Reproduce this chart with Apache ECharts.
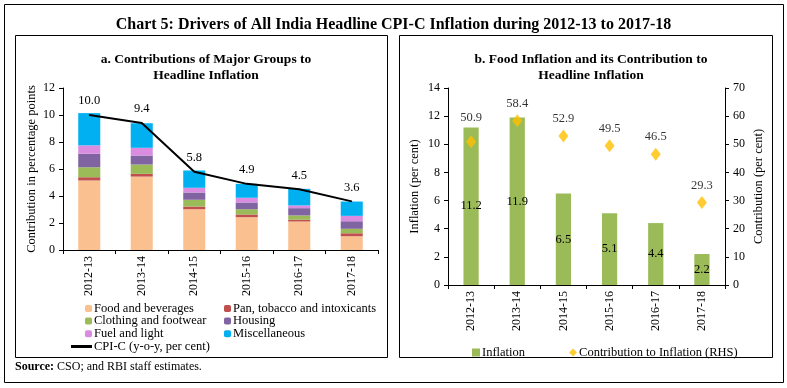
<!DOCTYPE html>
<html><head><meta charset="utf-8">
<script src="https://cdn.jsdelivr.net/npm/echarts@6/dist/echarts.min.js"></script>
<style>html,body{margin:0;padding:0;background:#fff}#c{width:787px;height:388px}</style>
</head><body><div id="c"></div>
<script>
var years = ['2012-13','2013-14','2014-15','2015-16','2016-17','2017-18'];
// Panel a: contributions (percentage points)
var food     = [5.15, 5.44, 3.02, 2.43, 2.11, 1.02];
var pan      = [0.24, 0.20, 0.20, 0.20, 0.13, 0.22];
var clothing = [0.74, 0.69, 0.50, 0.39, 0.32, 0.33];
var housing  = [1.00, 0.67, 0.54, 0.50, 0.54, 0.56];
var fuel     = [0.62, 0.57, 0.35, 0.35, 0.20, 0.40];
var misc     = [2.39, 1.82, 1.28, 1.03, 1.23, 1.06];
var cpic     = [10.0, 9.4, 5.8, 4.9, 4.5, 3.6];
// Panel b
var foodInflation = [11.2, 11.9, 6.5, 5.1, 4.4, 2.2];
var foodContribution = [50.9, 58.4, 52.9, 49.5, 46.5, 29.3];

var FONT = 'Liberation Serif';
var txt = {fontFamily: FONT, fontSize: 12, color: '#000'};
var chart = echarts.init(document.getElementById('c'), null, {renderer: 'canvas'});

function stackBar(name, data, color) {
  return {name: name, type: 'bar', stack: 'a', xAxisIndex: 0, yAxisIndex: 0,
    barWidth: '42%', data: data, itemStyle: {color: color}};
}

var axisLine = {show: true, lineStyle: {color: '#000', width: 1}};
var axisTick = {show: true, lineStyle: {color: '#000'}, length: 4};
var legText = {fontFamily: FONT, fontSize: 12.5, color: '#000', lineHeight: 12, padding: [0, 0, 0, -3]};

var option = {
  animation: false,
  textStyle: {fontFamily: FONT},
  title: [
    {text: 'Chart 5: Drivers of All India Headline CPI-C Inflation during 2012-13 to 2017-18',
     left: 'center', top: 12, textStyle: {fontFamily: FONT, fontWeight: 'bold', fontSize: 16, color: '#000'}},
    {text: 'a. Contributions of Major Groups to\nHeadline Inflation', left: 201, textAlign: 'center', top: 47,
     textStyle: {fontFamily: FONT, fontWeight: 'bold', fontSize: 13.5, lineHeight: 16, color: '#000'}},
    {text: 'b. Food Inflation and its Contribution to\nHeadline Inflation', left: 586, textAlign: 'center', top: 47,
     textStyle: {fontFamily: FONT, fontWeight: 'bold', fontSize: 13.5, lineHeight: 16, color: '#000'}}
  ],
  graphic: [
    {type: 'rect', shape: {x: 4.5, y: 4.5, width: 779, height: 378}, style: {fill: 'none', stroke: '#000', lineWidth: 1}},
    {type: 'rect', shape: {x: 15.5, y: 35.5, width: 372, height: 322}, style: {fill: 'none', stroke: '#000', lineWidth: 1}},
    {type: 'rect', shape: {x: 399.5, y: 35.5, width: 373, height: 322}, style: {fill: 'none', stroke: '#000', lineWidth: 1}},
    {type: 'text', left: 15, top: 361, style: {text: '{b|Source:} CSO; and RBI staff estimates.', rich: {b: {fontWeight: 'bold', fontFamily: FONT, fontSize: 12}}, fontFamily: FONT, fontSize: 12, fill: '#000'}}
  ],
  legend: [
    {orient: 'vertical', left: 80, top: 297, itemWidth: 7, itemHeight: 7, itemGap: -0.4, textStyle: legText,
     data: ['Food and beverages', 'Clothing and footwear', 'Fuel and light']},
    {orient: 'vertical', left: 219, top: 297, itemWidth: 7, itemHeight: 7, itemGap: -0.4, textStyle: legText,
     data: ['Pan, tobacco and intoxicants', 'Housing', 'Miscellaneous']},
    {orient: 'horizontal', left: 66, top: 335, itemWidth: 21, itemHeight: 3, textStyle: legText,
     data: [{name: 'CPI-C (y-o-y, per cent)', icon: 'rect'}]},
    {orient: 'horizontal', left: 467, top: 341, itemWidth: 8, itemHeight: 8, itemGap: 44, textStyle: legText,
     data: [{name: 'Inflation', icon: 'rect'}, {name: 'Contribution to Inflation (RHS)', icon: 'diamond'}]}
  ],
  grid: [
    {left: 63, top: 88, width: 315, height: 162},
    {left: 448, top: 88, width: 277, height: 197}
  ],
  xAxis: [
    {type: 'category', gridIndex: 0, data: years, axisLine: axisLine, axisTick: axisTick,
     axisLabel: Object.assign({rotate: 90, margin: 6}, txt)},
    {type: 'category', gridIndex: 1, data: years, axisLine: axisLine, axisTick: axisTick,
     axisLabel: Object.assign({rotate: 90, margin: 6}, txt)}
  ],
  yAxis: [
    {type: 'value', gridIndex: 0, min: 0, max: 12, interval: 2, axisLine: axisLine, axisTick: axisTick,
     splitLine: {show: false}, axisLabel: Object.assign({margin: 8}, txt),
     name: 'Contribution in percentage points', nameLocation: 'middle', nameGap: 25, nameRotate: 90,
     nameTextStyle: {fontFamily: FONT, fontSize: 12.5, color: '#000'}},
    {type: 'value', gridIndex: 1, min: 0, max: 14, interval: 2, axisLine: axisLine, axisTick: axisTick,
     splitLine: {show: false}, axisLabel: Object.assign({margin: 8}, txt),
     name: 'Inflation (per cent)', nameLocation: 'middle', nameGap: 27, nameRotate: 90,
     nameTextStyle: {fontFamily: FONT, fontSize: 12.5, color: '#000'}},
    {type: 'value', gridIndex: 1, position: 'right', min: 0, max: 70, interval: 10, axisLine: axisLine, axisTick: axisTick,
     splitLine: {show: false}, axisLabel: Object.assign({margin: 8}, txt),
     name: 'Contribution (per cent)', nameLocation: 'middle', nameGap: 27, nameRotate: 90,
     nameTextStyle: {fontFamily: FONT, fontSize: 12.5, color: '#000'}}
  ],
  series: [
    stackBar('Food and beverages', food, '#FAC090'),
    stackBar('Pan, tobacco and intoxicants', pan, '#C0504D'),
    stackBar('Clothing and footwear', clothing, '#9BBB59'),
    stackBar('Housing', housing, '#8064A2'),
    stackBar('Fuel and light', fuel, '#DA8CE0'),
    stackBar('Miscellaneous', misc, '#00B0F0'),
    {name: 'CPI-C (y-o-y, per cent)', type: 'line', xAxisIndex: 0, yAxisIndex: 0, data: cpic,
     symbol: 'circle', symbolSize: 1, showSymbol: true, lineStyle: {color: '#000', width: 2}, itemStyle: {color: '#000'},
     label: {show: true, position: 'top', distance: 7, formatter: function (p) { return p.value.toFixed(1); },
       fontFamily: FONT, fontSize: 12.5, color: '#000'}},
    {name: 'Inflation', type: 'bar', xAxisIndex: 1, yAxisIndex: 1, data: foodInflation, barWidth: '33%',
     itemStyle: {color: '#9BBB59'},
     label: {show: true, position: 'inside', formatter: function (p) { return p.value.toFixed(1); },
       fontFamily: FONT, fontSize: 12.5, color: '#000'}},
    {name: 'Contribution to Inflation (RHS)', type: 'scatter', xAxisIndex: 1, yAxisIndex: 2,
     data: foodContribution.map(function (v, i) { return i === 0 ? {value: v, label: {distance: 11}} : v; }),
     symbol: 'diamond', symbolSize: [10, 13], itemStyle: {color: '#FFC000'},
     label: {show: true, position: 'top', distance: 4, formatter: function (p) { return p.value.toFixed(1); },
       fontFamily: FONT, fontSize: 12.5, color: '#000'}}
  ]
};
chart.setOption(option);
</script>
</body></html>
